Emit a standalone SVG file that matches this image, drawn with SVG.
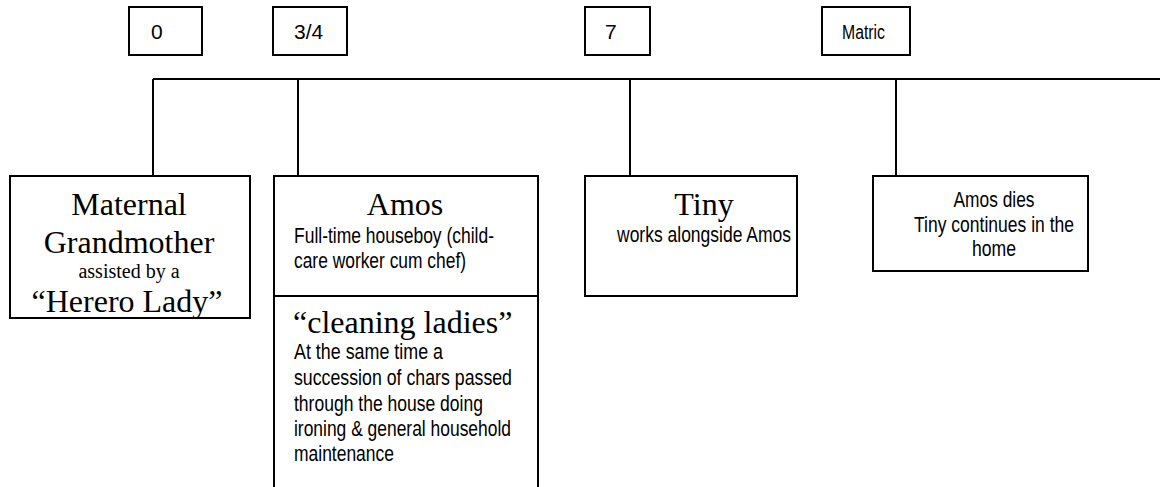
<svg xmlns="http://www.w3.org/2000/svg" width="1160" height="487" viewBox="0 0 1160 487">
  <style>
    .box { fill: #ffffff; stroke: #000000; stroke-width: 2; }
    .wire { fill: none; stroke: #000000; stroke-width: 2; }
    .serif { font-family: "Liberation Serif", "Times New Roman", serif; fill: #000000; }
    .big { font-size: 32px; }
    .mid { font-size: 20px; }
    .sans { font-family: "Liberation Sans", Arial, sans-serif; fill: #000000; }
    .narrow { font-family: "Liberation Sans Narrow", "Liberation Sans", Arial, sans-serif; font-size: 21.5px; fill: #000000; }
    .age { font-size: 21px; }
  </style>
  <rect width="1160" height="487" fill="#ffffff"/>

  <!-- timeline and drop lines -->
  <g id="connectors">
    <path class="wire" d="M153,79 H1160"/>
    <path class="wire" d="M153,79 V176"/>
    <path class="wire" d="M298,79 V176"/>
    <path class="wire" d="M630,79 V176"/>
    <path class="wire" d="M896,79 V176"/>
  </g>

  <!-- age markers -->
  <g id="age-0">
    <rect class="box" x="129" y="7" width="73" height="48"/>
    <text class="sans age" x="151" y="39">0</text>
  </g>
  <g id="age-3-4">
    <rect class="box" x="273" y="7" width="74" height="48"/>
    <text class="sans age" x="294" y="39">3/4</text>
  </g>
  <g id="age-7">
    <rect class="box" x="585" y="7" width="65" height="48"/>
    <text class="sans age" x="605" y="39">7</text>
  </g>
  <g id="age-matric">
    <rect class="box" x="822" y="7" width="88" height="48"/>
    <text class="narrow" style="font-size:19.5px" x="842" y="39" textLength="43" lengthAdjust="spacingAndGlyphs">Matric</text>
  </g>

  <!-- carers -->
  <g id="grandmother">
    <rect class="box" x="10" y="176" width="240" height="142"/>
    <g class="serif" text-anchor="middle">
      <text class="big" x="129" y="215">Maternal</text>
      <text class="big" x="129" y="253">Grandmother</text>
      <text class="mid" x="129" y="278">assisted by a</text>
      <text class="big" x="127" y="312">“Herero Lady”</text>
    </g>
  </g>

  <g id="amos">
    <rect class="box" x="274" y="176" width="264" height="320"/>
    <path class="wire" d="M274,296 H538"/>
    <text class="serif big" x="405" y="215" text-anchor="middle">Amos</text>
    <text class="narrow" x="294" y="243" textLength="200" lengthAdjust="spacingAndGlyphs">Full-time houseboy (child-</text>
    <text class="narrow" x="294" y="268" textLength="172" lengthAdjust="spacingAndGlyphs">care worker cum chef)</text>
    <text class="serif big" x="293" y="333">“cleaning ladies”</text>
    <text class="narrow" x="294" y="359" textLength="149" lengthAdjust="spacingAndGlyphs">At the same time a</text>
    <text class="narrow" x="294" y="385" textLength="218" lengthAdjust="spacingAndGlyphs">succession of chars passed</text>
    <text class="narrow" x="294" y="411" textLength="189" lengthAdjust="spacingAndGlyphs">through the house doing</text>
    <text class="narrow" x="294" y="436" textLength="217" lengthAdjust="spacingAndGlyphs">ironing &amp; general household</text>
    <text class="narrow" x="294" y="461" textLength="100" lengthAdjust="spacingAndGlyphs">maintenance</text>
  </g>

  <g id="tiny">
    <rect class="box" x="585" y="176" width="212" height="120"/>
    <text class="serif big" x="704" y="215" text-anchor="middle">Tiny</text>
    <text class="narrow" x="704" y="242" text-anchor="middle" textLength="174" lengthAdjust="spacingAndGlyphs">works alongside Amos</text>
  </g>

  <g id="amos-dies">
    <rect class="box" x="873" y="176" width="215" height="95"/>
    <g text-anchor="middle">
      <text class="narrow" x="994" y="207" textLength="81" lengthAdjust="spacingAndGlyphs">Amos dies</text>
      <text class="narrow" x="994" y="232" textLength="160" lengthAdjust="spacingAndGlyphs">Tiny continues in the</text>
      <text class="narrow" x="994" y="256" textLength="44" lengthAdjust="spacingAndGlyphs">home</text>
    </g>
  </g>
</svg>
